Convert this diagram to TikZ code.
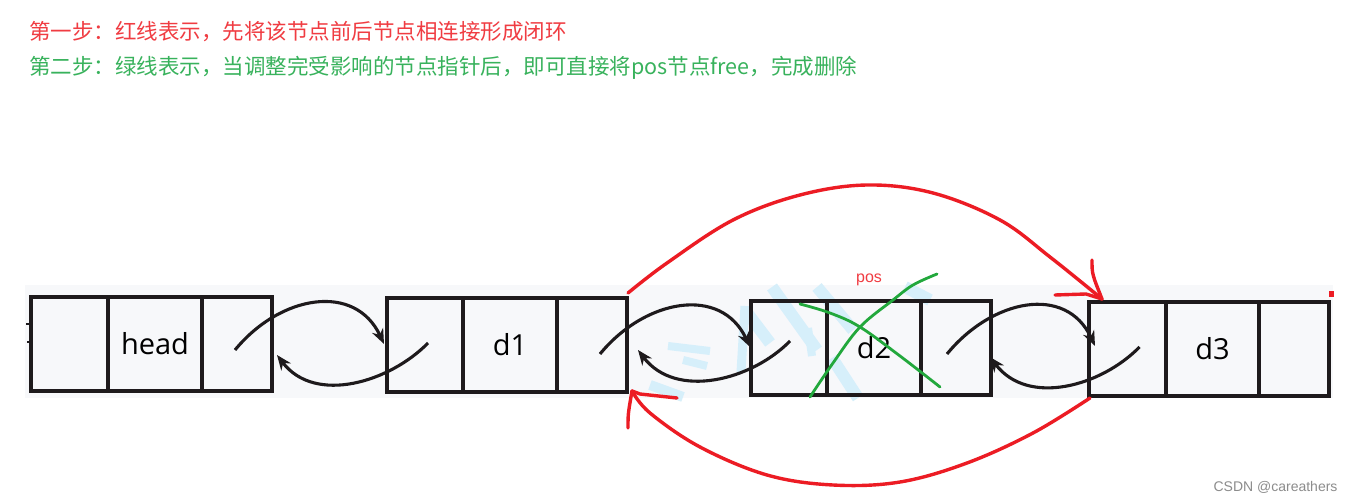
\documentclass[tikz,border=0pt]{standalone}
\usepackage{fontspec}
\setmainfont{Open Sans}
\newfontfamily\cjk{Noto Sans CJK SC}
\newfontfamily\arialish{Liberation Sans}
\usetikzlibrary{arrows.meta,calc}
\definecolor{redtxt}{RGB}{240,60,66}
\definecolor{greentxt}{RGB}{56,178,92}
\definecolor{redline}{RGB}{236,28,36}
\definecolor{greenline}{RGB}{34,168,60}
\definecolor{bggray}{RGB}{247,248,250}
\definecolor{wmblue}{RGB}{214,239,250}
\definecolor{ink}{RGB}{30,26,28}
\definecolor{marktxt}{RGB}{140,140,140}
\begin{document}
\begin{tikzpicture}[x=1pt,y=-1pt,
  cell/.style={draw=ink,line width=3.6pt,rectangle,outer sep=0pt,inner sep=0pt,
    minimum height=94pt,anchor=north west,font=\fontsize{29}{31}\selectfont},
  ptr/.style={draw=ink,line width=3.1pt,-{Stealth[length=15pt,width=12pt]}},
  redarc/.style={draw=redline,line width=3.4pt,line cap=round,line join=round},
  greenx/.style={draw=greenline,line width=2.8pt,line cap=round,line join=round},
  wm/.style={draw=wmblue,line width=12pt},
  title/.style={anchor=west,inner sep=0pt,font=\cjk\fontsize{21.5}{24}\selectfont}]
\useasboundingbox (0,0) rectangle (1356,502);
\fill[white] (0,0) rectangle (1356,502);
\fill[bggray] (25,285) rectangle (1333,398);

% watermark
\draw[wm] (772,287) -- (817,350);
\draw[wm] (817,287) -- (853,330);
\draw[wm] (905,287) -- (930,300);
\draw[wm] (745,310) -- (770,343);
\draw[wm,line width=9pt] (745,306) -- (741,372);
\draw[wm,line width=8pt] (668,346) -- (710,351);
\draw[wm,line width=8pt] (683,360) -- (707,366);
\draw[wm,line width=10pt] (650,385) -- (683,397);
\draw[wm,line width=8pt] (808,328) -- (812,356);
\draw[wm] (832,358) -- (858,398);

% titles
\node[title,text=redtxt] (t1) at (29,32) {第一步：红线表示，先将该节点前后节点相连接形成闭环};
\node[title,text=greentxt] (t2) at (29,68) {第二步：绿线表示，当调整完受影响的节点指针后，即可直接将pos节点free，完成删除};

% list nodes
\node[cell,minimum width=77pt] (h-p) at (31,297) {};
\node[cell,minimum width=94pt] (h-d) at (h-p.north east) {head};
\node[cell,minimum width=70pt] (h-n) at (h-d.north east) {};

\node[cell,minimum width=76pt] (d1-p) at (387,298) {};
\node[cell,minimum width=94pt] (d1-d) at (d1-p.north east) {d1};
\node[cell,minimum width=70pt] (d1-n) at (d1-d.north east) {};

\node[cell,minimum width=76pt] (d2-p) at (751,301) {};
\node[cell,minimum width=94pt] (d2-d) at (d2-p.north east) {d2};
\node[cell,minimum width=70pt] (d2-n) at (d2-d.north east) {};

\node[cell,minimum width=77pt] (d3-p) at (1089,302) {};
\node[cell,minimum width=93pt] (d3-d) at (d3-p.north east) {d3};
\node[cell,minimum width=70pt] (d3-n) at (d3-d.north east) {};

% small marks at the left
\draw[ink,line width=1.6pt] (26,324) -- (31,324);
\draw[ink,line width=1.6pt] (27,342) -- (31,342);

% next pointers
\draw[ptr] ([shift={(-2,6)}]h-n.center) .. controls +(45,-55) and +(-29,-62) .. ([shift={(-3,-1)}]d1-p.west);
\draw[ptr] ([shift={(8,9)}]d1-n.center) .. controls +(45,-55) and +(-29,-62) .. ([shift={(-1,-1)}]d2-p.west);
\draw[ptr] ([shift={(-9,6)}]d2-n.center) .. controls +(45,-55) and +(-29,-62) .. ([shift={(6,-3)}]d3-p.west);
% prev pointers
\draw[ptr] ([shift={(3,-2)}]d1-p.center) .. controls +(-38,39) and +(38,50) .. ([shift={(5,11)}]h-n.east);
\draw[ptr] ([shift={(1,-7)}]d2-p.center) .. controls +(-38,39) and +(38,50) .. ([shift={(11,5)}]d1-n.east);
\draw[ptr] ([shift={(12,-2)}]d3-p.center) .. controls +(-38,39) and +(38,50) .. ([shift={(-1,9)}]d2-n.east);

% green cross over d2
\draw[greenx] plot[smooth,tension=0.6] coordinates {(800,304) (830,313) (860,327) (900,356) (940,387)};
\draw[greenx] plot[smooth,tension=0.6] coordinates {(937,274) (913,285) (893,300) (860,327) (833,363) (810,397)};
\node[text=redtxt,font=\arialish\fontsize{16}{18}\selectfont] (pos) at (869,280) {pos};

% red arcs
\coordinate (startT) at ([shift={(1,-5)}]d1-n.north east);
\coordinate (tipT) at ([shift={(13,-3)}]d3-p.north west);
\coordinate (startB) at ([shift={(1,2)}]d3-p.south west);
\coordinate (tipB) at ([shift={(5,-1)}]d1-n.south east);
\draw[redarc] plot[smooth,tension=0.6] coordinates {(startT) (667,263) (733,220) (800,195) (867,185) (933,193) (1000,220) (1050,257) (tipT)};
\draw[redarc] ([shift={(-10,-39)}]tipT) .. controls +(0,14) .. (tipT);
\draw[redarc] ([shift={(-47,-4)}]tipT) -- ([shift={(-16,-5)}]tipT) -- (tipT);
\draw[redarc] plot[smooth,tension=0.6] coordinates {(startB) (1033,433) (967,463) (900,482) (833,485) (767,475) (700,447) (650,413) (tipB)};
\draw[redarc] ([shift={(-4,37)}]tipB) .. controls +(0,-14) .. (tipB);
\draw[redarc] ([shift={(45,7)}]tipB) -- ([shift={(8,3)}]tipB) -- (tipB);
\fill[redline] (1329,291) rectangle (1334,297);

% watermark text
\node[anchor=east,text=marktxt,font=\arialish\fontsize{14}{16}\selectfont] (mark) at (1341,487) {CSDN @careathers};
\end{tikzpicture}
\end{document}
